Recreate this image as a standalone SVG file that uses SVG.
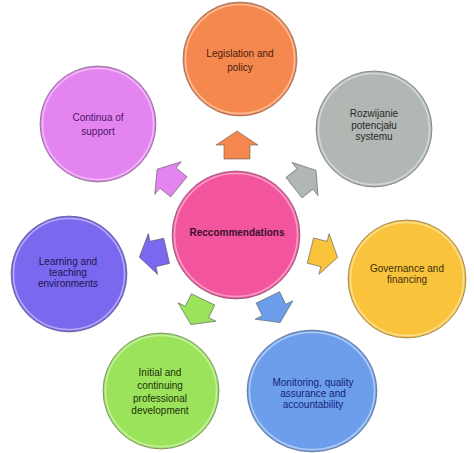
<svg xmlns="http://www.w3.org/2000/svg" xmlns:xlink="http://www.w3.org/1999/xlink" width="474" height="453" viewBox="0 0 474 453">
<style>
.c{stroke:#555;stroke-width:0.8;stroke-opacity:0.7}
.hl{fill:none;stroke:#fff;stroke-width:1.5;stroke-opacity:0.45}
.t{font-family:"Liberation Sans",Arial,sans-serif;font-size:10px;text-anchor:middle}
.a{stroke:#555;stroke-width:0.8;stroke-opacity:0.7}
</style>
<defs>
<path id="arr" d="M-14,-13 L0,-13 L0,-21 L14,0 L0,21 L0,13 L-14,13 Z"/>
</defs>
<rect width="474" height="453" fill="#fff"/>
<g id="connectors">
<use xlink:href="#arr" class="a" fill="#f5884f" transform="translate(237,145) rotate(-90)"/>
<use xlink:href="#arr" class="a" fill="#b1b8b3" transform="translate(305,179) rotate(-38)"/>
<use xlink:href="#arr" class="a" fill="#f9c33c" transform="translate(324,254) rotate(14)"/>
<use xlink:href="#arr" class="a" fill="#6d9eeb" transform="translate(274,310) rotate(64)"/>
<use xlink:href="#arr" class="a" fill="#9be35a" transform="translate(197,312) rotate(116)"/>
<use xlink:href="#arr" class="a" fill="#7a68ee" transform="translate(153,254) rotate(167)"/>
<use xlink:href="#arr" class="a" fill="#e384f0" transform="translate(168,178) rotate(-141)"/>
</g>
<g id="center">
<circle class="c" cx="236" cy="235" r="64" fill="#f2559d"/>
<circle class="hl" cx="236" cy="235" r="61.5"/>
<text class="t" x="237" y="236" font-weight="bold" font-size="8.5" fill="#3a0f2c">Reccommendations</text>
</g>
<g id="legislation">
<circle class="c" cx="240" cy="59" r="57" fill="#f5884f"/>
<circle class="hl" cx="240" cy="59" r="54.5"/>
<text class="t" x="240" y="57" fill="#4a200c">Legislation and</text>
<text class="t" x="240" y="71" fill="#4a200c">policy</text>
</g>
<g id="rozwijanie">
<circle class="c" cx="374" cy="129" r="58" fill="#b1b8b3"/>
<circle class="hl" cx="374" cy="129" r="55.5"/>
<text class="t" x="374" y="117" fill="#2a2a2a">Rozwijanie</text>
<text class="t" x="374" y="128.5" fill="#2a2a2a">potencjału</text>
<text class="t" x="374" y="140" fill="#2a2a2a">systemu</text>
</g>
<g id="governance">
<circle class="c" cx="407" cy="279" r="59" fill="#f9c33c"/>
<circle class="hl" cx="407" cy="279" r="56.5"/>
<text class="t" x="407" y="272" fill="#3e300a">Governance and</text>
<text class="t" x="407" y="283" fill="#3e300a">financing</text>
</g>
<g id="monitoring">
<ellipse class="c" cx="312" cy="391" rx="65" ry="61" fill="#6d9eeb"/>
<ellipse class="hl" cx="312" cy="391" rx="62.5" ry="58.5"/>
<text class="t" x="313" y="386" fill="#14237a">Monitoring, quality</text>
<text class="t" x="313" y="397" fill="#14237a">assurance and</text>
<text class="t" x="313" y="408" fill="#14237a">accountability</text>
</g>
<g id="initial">
<circle class="c" cx="161" cy="391" r="58" fill="#9be35a"/>
<circle class="hl" cx="161" cy="391" r="55.5"/>
<text class="t" x="160" y="376" fill="#1b300a">Initial and</text>
<text class="t" x="160" y="389" fill="#1b300a">continuing</text>
<text class="t" x="160" y="402" fill="#1b300a">professional</text>
<text class="t" x="160" y="414" fill="#1b300a">development</text>
</g>
<g id="learning">
<circle class="c" cx="69" cy="274" r="58" fill="#7a68ee"/>
<circle class="hl" cx="69" cy="274" r="55.5"/>
<text class="t" x="68" y="265" fill="#1a1650">Learning and</text>
<text class="t" x="68" y="276" fill="#1a1650">teaching</text>
<text class="t" x="68" y="287" fill="#1a1650">environments</text>
</g>
<g id="continua">
<circle class="c" cx="98" cy="124" r="58" fill="#e384f0"/>
<circle class="hl" cx="98" cy="124" r="55.5"/>
<text class="t" x="98" y="121" fill="#4e1466">Continua of</text>
<text class="t" x="98" y="135" fill="#4e1466">support</text>
</g>
</svg>
